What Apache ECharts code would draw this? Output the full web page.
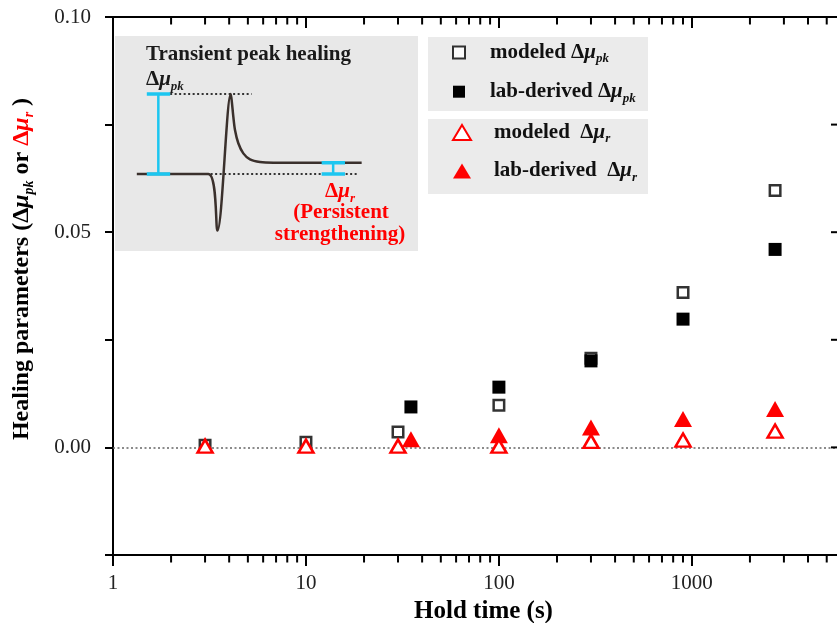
<!DOCTYPE html>
<html><head><meta charset="utf-8">
<script src="https://cdn.jsdelivr.net/npm/echarts@6/dist/echarts.min.js"></script>
<style>html,body{margin:0;padding:0;background:#fff}#c{width:837px;height:623px}</style>
</head><body><div id="c"></div>
<script>
// ---- data ----
const holdModeled = [3, 10, 30, 100, 300, 900, 2700];
const modeledPk   = [0.0005, 0.0012, 0.0036, 0.0098, 0.0207, 0.0360, 0.0597];
const modeledR    = [0.0003, 0.0003, 0.0003, 0.0003, 0.0014, 0.0017, 0.0038];
const holdLab = [35, 100, 300, 900, 2700];
const labPk   = [0.0094, 0.0140, 0.0201, 0.0298, 0.0460];
const labR    = [0.0019, 0.0028, 0.0046, 0.0066, 0.0089];
const xTickLabels = ['1', '10', '100', '1000'];
const yTickLabels = ['0.00', '0.05', '0.10'];
const minorTickValues = [2,3,4,5,6,7,8,9,20,30,40,50,60,70,80,90,200,300,400,500,600,700,800,900,2000,3000,4000,5000];
const rightTickValues = [-0.025, 0, 0.025, 0.05, 0.075, 0.1];
const seriesNames = ['modeled Δμpk', 'lab-derived Δμpk', 'modeled Δμr', 'lab-derived Δμr'];
// schematic (inset) in arbitrary units 0..100
const schemX = [7.2, 30.8, 33.8, 38.2, 38.5, 39.05, 39.6, 40.7, 42.35, 44.55, 47.85, 52.25, 81.4];
const schemY = [35.8, 35.8, 9.5, 73.0, 70.2, 62.5, 56.3, 50.1, 45.4, 42.6, 41.4, 41.1, 41.1];
const schemPeakLevel = 73.0, schemBase = 35.8, schemSteady = 41.1;
const schemPeakDotX = [18.2, 45.1], schemBaseDotX = [18.2, 80.3];
const schemBigBarX = 14.3, schemBigCapX = [10.5, 18.2];
const schemSmallBarX = 72.0, schemSmallCapX = [68.2, 75.9];
const xMax = 6000;

const SERIF = "'Liberation Serif','Times New Roman',serif";
const RED = '#ff0000';
const CYAN = '#1cc6f0';
const CURVE = '#3a302c';

const zip = (xs, ys) => xs.map((x, i) => [x, ys[i]]);

function richSet(size, color, lh) {
  const L = lh || size + 5;
  return {
    t: {fontFamily: SERIF, fontWeight: 'bold', fontSize: size, color: color, fill: color, lineHeight: L},
    m: {fontFamily: SERIF, fontWeight: 'bold', fontStyle: 'italic', fontSize: size, color: color, fill: color, lineHeight: L},
    s: {fontFamily: SERIF, fontWeight: 'bold', fontStyle: 'italic', fontSize: Math.round(size * 0.6), color: color, fill: color, lineHeight: Math.round(size*0.6), verticalAlign: 'bottom'}
  };
}
function legendFmt(name) {
  const m = name.match(/^(.*?)(\s*)Δμ(pk|r)$/);
  return '{t|' + m[1] + (m[3] === 'r' ? '  ' : ' ') + 'Δ}{m|μ}{s|' + m[3] + '}';
}

const chart = echarts.init(document.getElementById('c'), null, {renderer: 'canvas'});

const yTitleRich = Object.assign({}, richSet(24, '#000'));
const red24 = richSet(24, RED);
yTitleRich.rt = red24.t; yTitleRich.rm = red24.m; yTitleRich.rs = red24.s;

const redRich = richSet(21, RED);
const blackRich = richSet(21, '#1a1a1a');

const inset = (data, z, lineStyle, extra) => Object.assign({
  type: 'line', xAxisIndex: 2, yAxisIndex: 1, silent: true, showSymbol: false, z: z, data: data, lineStyle: lineStyle
}, extra || {});

const option = {
  backgroundColor: '#fff',
  animation: false,
  grid: [
    {left: 113, top: 17, width: 729, height: 538, show: false, outerBoundsMode: 'none', containLabel: false},
    {left: 115, top: 36, width: 303, height: 215, show: true, backgroundColor: '#e8e8e8', borderWidth: 0, outerBoundsMode: 'none'}
  ],
  xAxis: [
    {type: 'log', logBase: 10, min: 1, max: xMax, gridIndex: 0, position: 'bottom',
     axisLine: {onZero: false, lineStyle: {color: '#000', width: 2}},
     axisTick: {inside: false, length: 11, lineStyle: {color: '#000', width: 2}},
     axisLabel: {margin: 18, fontFamily: SERIF, fontSize: 21, color: '#222',
       formatter: v => xTickLabels.includes(String(v)) ? String(v) : '', showMaxLabel: false},
     splitLine: {show: false},
     name: 'Hold time (s)', nameLocation: 'middle', nameGap: 43,
     nameTextStyle: {fontFamily: SERIF, fontWeight: 'bold', fontSize: 25, color: '#000', padding: [0, 0, 0, 12]}},
    {type: 'log', logBase: 10, min: 1, max: xMax, gridIndex: 0, position: 'top',
     axisLine: {onZero: false, lineStyle: {color: '#000', width: 2}},
     axisTick: {inside: true, length: 11, lineStyle: {color: '#000', width: 2}},
     axisLabel: {show: false}, splitLine: {show: false}},
    {type: 'value', gridIndex: 1, min: 0, max: 100, show: false}
  ],
  yAxis: [
    {type: 'value', gridIndex: 0, min: -0.025, max: 0.1, interval: 0.025, position: 'left',
     axisLine: {show: true, onZero: false, lineStyle: {color: '#000', width: 2}},
     axisTick: {show: true, inside: false, length: 8, lineStyle: {color: '#000', width: 2}},
     axisLabel: {margin: 22, fontFamily: SERIF, fontSize: 21, color: '#222',
       formatter: v => { const s = v.toFixed(2); return yTickLabels.includes(s) ? s : ''; }},
     splitLine: {show: false}},
    {type: 'value', gridIndex: 1, min: 0, max: 100, show: false}
  ],
  legend: [
    {data: [seriesNames[0], seriesNames[1]], orient: 'vertical', left: 452, top: 42, padding: 0,
     itemWidth: 12, itemHeight: 12, itemGap: 15.7, z: 10, selectedMode: false,
     formatter: legendFmt, textStyle: {padding: [0, 0, 0, 20], rich: richSet(21, '#111', 26)}},
    {data: [seriesNames[2], seriesNames[3]], orient: 'vertical', left: 452, top: 122, padding: 0,
     itemWidth: 18, itemHeight: 15, itemGap: 15, z: 10, selectedMode: false, symbolKeepAspect: false,
     formatter: legendFmt, textStyle: {padding: [0, 0, 0, 18], rich: richSet(21, '#111', 26)}}
  ],
  graphic: [
    {type: 'rect', shape: {x: 428, y: 37, width: 220, height: 74}, style: {fill: '#ebebeb'}, z: 1, silent: true},
    {type: 'rect', shape: {x: 428, y: 119, width: 220, height: 75}, style: {fill: '#ebebeb'}, z: 1, silent: true},
    {type: 'text', x: 146, y: 55, z: 50, silent: true,
     style: {text: 'Transient peak healing', font: 'bold 21px ' + SERIF, fill: '#1a1a1a', verticalAlign: 'middle'}},
    {type: 'text', x: 146, y: 80, z: 50, silent: true,
     style: {text: '{t|Δ}{m|μ}{s|pk}', rich: blackRich, verticalAlign: 'middle'}},
    {type: 'text', x: 340, y: 192, z: 50, silent: true,
     style: {text: '{t|Δ}{m|μ}{s|r}', rich: redRich, align: 'center', verticalAlign: 'middle'}},
    {type: 'text', x: 341, y: 213, z: 50, silent: true,
     style: {text: '(Persistent', font: 'bold 21px ' + SERIF, fill: RED, align: 'center', verticalAlign: 'middle'}},
    {type: 'text', x: 340, y: 235, z: 50, silent: true,
     style: {text: 'strengthening)', font: 'bold 21px ' + SERIF, fill: RED, align: 'center', verticalAlign: 'middle'}},
    {type: 'text', x: 22, y: 269, rotation: Math.PI / 2, z: 50, silent: true,
     style: {text: '{t|Healing parameters (Δ}{m|μ}{s|pk}{t| or }{rt|Δ}{rm|μ}{rs|r}{t| )}', rich: yTitleRich,
       align: 'center', verticalAlign: 'middle'}}
  ],
  series: [
    {name: seriesNames[0], type: 'scatter', xAxisIndex: 0, yAxisIndex: 0, data: zip(holdModeled, modeledPk),
     symbol: 'rect', symbolSize: 10.5, itemStyle: {color: '#fff', borderColor: '#000', borderWidth: 2.5}, z: 3,
     markLine: {silent: true, symbol: 'none', label: {show: false}, data: [{yAxis: 0}],
       lineStyle: {type: [2, 2.5], color: '#666', width: 1.5}}},
    {name: seriesNames[1], type: 'scatter', xAxisIndex: 0, yAxisIndex: 0, data: zip(holdLab, labPk),
     symbol: 'rect', symbolSize: 13, itemStyle: {color: '#000', opacity: 1}, z: 4},
    {name: seriesNames[3], type: 'scatter', xAxisIndex: 0, yAxisIndex: 0, data: zip(holdLab, labR),
     symbol: 'triangle', symbolSize: [18, 16], itemStyle: {color: RED, opacity: 1}, z: 5},
    {name: seriesNames[2], type: 'scatter', xAxisIndex: 0, yAxisIndex: 0, data: zip(holdModeled, modeledR),
     symbol: 'triangle', symbolSize: [15, 13], itemStyle: {color: '#fff', borderColor: RED, borderWidth: 2.5, opacity: 1}, z: 6},
    // minor ticks of the log axes (bottom outward, top inward)
    {type: 'scatter', xAxisIndex: 0, yAxisIndex: 0, silent: true, clip: false, z: 8,
     data: minorTickValues.map(v => [v, -0.025]), symbol: 'rect', symbolSize: [2, 7], symbolOffset: [0, 4],
     itemStyle: {color: '#000', opacity: 1}},
    {type: 'scatter', xAxisIndex: 0, yAxisIndex: 0, silent: true, clip: false, z: 8,
     data: minorTickValues.map(v => [v, 0.1]), symbol: 'rect', symbolSize: [2, 7], symbolOffset: [0, 4],
     itemStyle: {color: '#000', opacity: 1}},
    // right-frame inward ticks (frame itself lies just beyond the cropped edge)
    {type: 'scatter', xAxisIndex: 0, yAxisIndex: 0, silent: true, clip: false, z: 8,
     data: rightTickValues.map(v => [xMax, v]), symbol: 'rect', symbolSize: [11, 2], symbolOffset: [-5.5, 0],
     itemStyle: {color: '#000', opacity: 1}},
    // inset schematic
    inset([[schemPeakDotX[0], schemPeakLevel], [schemPeakDotX[1], schemPeakLevel]], 10, {color: '#333', width: 2, type: [2, 2.5]}),
    inset([[schemBaseDotX[0], schemBase], [schemBaseDotX[1], schemBase]], 10, {color: '#333', width: 2, type: [2, 2.5]}),
    inset(zip(schemX, schemY), 11, {color: CURVE, width: 2.5}, {smooth: 0.3}),
    inset([[schemBigBarX, schemBase], [schemBigBarX, schemPeakLevel]], 12, {color: CYAN, width: 2.5}),
    inset([[schemBigCapX[0], schemPeakLevel], [schemBigCapX[1], schemPeakLevel]], 12, {color: CYAN, width: 3.5}),
    inset([[schemBigCapX[0], schemBase], [schemBigCapX[1], schemBase]], 12, {color: CYAN, width: 3.5}),
    inset([[schemSmallBarX, schemBase], [schemSmallBarX, schemSteady]], 12, {color: CYAN, width: 2.5}),
    inset([[schemSmallCapX[0], schemSteady], [schemSmallCapX[1], schemSteady]], 12, {color: CYAN, width: 3.5}),
    inset([[schemSmallCapX[0], schemBase], [schemSmallCapX[1], schemBase]], 12, {color: CYAN, width: 3.5})
  ]
};
chart.setOption(option);
</script></body></html>
